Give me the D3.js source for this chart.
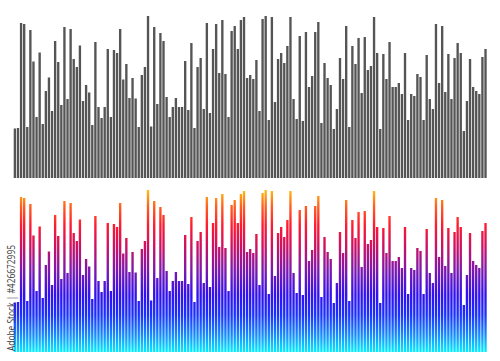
<!DOCTYPE html>
<html><head><meta charset="utf-8">
<script src="https://cdn.jsdelivr.net/npm/d3@7"></script>
<style>html,body{margin:0;padding:0;background:#fff;}svg{display:block;}</style>
</head><body>
<script>
const values = [49.5,50,155,154,51,148,116.5,61,125.5,54,87,100.5,67,137,116,73,151,79,149,119,111,132.5,77,93,85.5,
53,136,71,60,71,129,61,128,125,149,98.5,114,80,100,79.5,51,103,111,162,51.5,151,74,145,137,81,
61,71,80,71,71,117,68,135,50,111,120,69,155,65,129,154,105,158,104,61,147,152,129,158,161,100,
103,99,118,67,159,162,58,161,76,119,125,115,132,161,79,59,142,57,146,91,102,146,156,55,115,100,
93,49,69,120,99,152,51,132,114,140,85,141,108,112,161,125,49,124,99,136,91,91,95,84,125,58,
84,82,104,101,58,123,79,69,154,95,152,86,124,79,120,135,125,47,77,119,91,87,84,121,129];
const categories = values.map((v,i)=>i);
const gradientStops = [
  {offset:0, color:"#00f0ff"},
  {offset:0.1, color:"#1590ff"},
  {offset:0.23, color:"#1a30ff"},
  {offset:0.35, color:"#3010f0"},
  {offset:0.5, color:"#7a18b0"},
  {offset:0.66, color:"#d01060"},
  {offset:0.78, color:"#ff1a30"},
  {offset:0.9, color:"#ff6020"},
  {offset:1, color:"#ffc010"}
];
const watermark = "Adobe Stock | #426672995";

const W=500,H=361;
const svg=d3.select("body").append("svg").attr("width",W).attr("height",H);
const x=d3.scaleBand().domain(categories).range([13.4,487]).paddingInner(0.24).paddingOuter(0.1);
const yTop=d3.scaleLinear().domain([0,162]).range([178,16]);
const yBot=d3.scaleLinear().domain([0,162]).range([352,190]);

const defs=svg.append("defs");
const grad=defs.append("linearGradient").attr("id","g").attr("gradientUnits","userSpaceOnUse")
  .attr("x1",0).attr("x2",0).attr("y1",yBot(0)).attr("y2",yBot(162));
grad.selectAll("stop").data(gradientStops).join("stop").attr("offset",d=>d.offset).attr("stop-color",d=>d.color);

svg.append("g").selectAll("rect").data(values).join("rect")
  .attr("x",(d,i)=>x(i)).attr("width",x.bandwidth())
  .attr("y",d=>yTop(d)).attr("height",d=>yTop(0)-yTop(d)).attr("fill","#555555");

svg.append("g").selectAll("rect").data(values).join("rect")
  .attr("x",(d,i)=>x(i)).attr("width",x.bandwidth())
  .attr("y",d=>yBot(d)).attr("height",d=>yBot(0)-yBot(d)).attr("fill","url(#g)");

svg.append("text").attr("transform","translate(14.5,351) rotate(-90)")
  .attr("font-family","'Open Sans', sans-serif").attr("font-size",10).attr("fill","#3a3a3a")
  .attr("textLength",106).attr("lengthAdjust","spacingAndGlyphs").text(watermark);
</script>
</body></html>
